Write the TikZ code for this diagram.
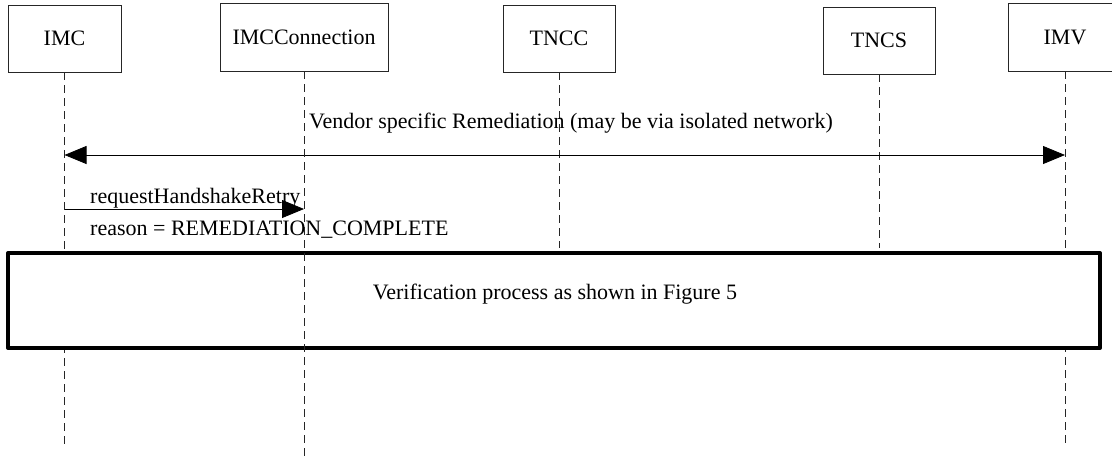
\documentclass[tikz,border=0pt]{standalone}
\usepackage{fontspec}
\setmainfont{Liberation Serif}
\usetikzlibrary{arrows.meta}
\begin{document}
\begin{tikzpicture}[x=1pt,y=-1pt,
  >={Triangle[length=22pt,width=18pt]},
  pbox/.style={draw=black!85,line width=0.8pt,fill=white,inner sep=0pt},
  life/.style={draw=black!85,line width=0.8pt,dash pattern=on 8pt off 5pt},
  msg/.style={draw=black,line width=0.8pt},
  lbl/.style={inner sep=0pt,anchor=base},
  bigbox/.style={draw=black,line width=4pt,fill=white,line join=round,inner sep=0pt},
  font=\fontsize{22}{26}\selectfont]
\useasboundingbox (0,0) rectangle (1112,459);
% participants
\node[pbox,minimum width=113pt,minimum height=67pt] (imc) at (64.5,38.5) {IMC};
\node[pbox,minimum width=168pt,minimum height=68pt] (imcc) at (304,37) {IMCConnection};
\node[pbox,minimum width=112pt,minimum height=67pt] (tncc) at (559,38.5) {TNCC};
\node[pbox,minimum width=112pt,minimum height=67pt] (tncs) at (879,40.5) {TNCS};
\node[pbox,minimum width=114pt,minimum height=68pt] (imv) at (1065,37) {IMV};
% lifeline end points
\coordinate (imcE) at (imc.south |- 0,447);
\coordinate (imccE) at (imcc.south |- 0,458);
\coordinate (tnccE) at (tncc.south |- 0,248);
\coordinate (tncsE) at (tncs.south |- 0,248);
\coordinate (imvE) at (imv.south |- 0,447);
\draw[life] (imc.south) -- (imcE);
\draw[life] (tncc.south) -- (tnccE);
\draw[life] (tncs.south) -- (tncsE);
\draw[life] (imv.south) -- (imvE);
% messages
\coordinate (a1) at (imc.south |- 0,155);
\coordinate (b1) at (imv.south |- 0,155);
\draw[msg,<->] (a1) -- (b1);
\node[lbl] (vtxt) at (571,128) {Vendor specific Remediation (may be via isolated network)};
\coordinate (a2) at (imc.south |- 0,209);
\coordinate (b2) at (imcc.south |- 0,209);
\draw[msg,->] (a2) -- (b2);
\node[lbl,anchor=base west] (rq) at (90,203) {requestHandshakeRetry};
\node[lbl,anchor=base west] (rs) at (90,235) {reason = REMEDIATION\_COMPLETE};
% verification block
\node[bigbox,minimum width=1092pt,minimum height=95pt] (verif) at (554,300.5) {};
\node[lbl] (vt) at (555,299) {Verification process as shown in Figure 5};
\draw[life] (imcc.south) -- (imccE);
\end{tikzpicture}
\end{document}
